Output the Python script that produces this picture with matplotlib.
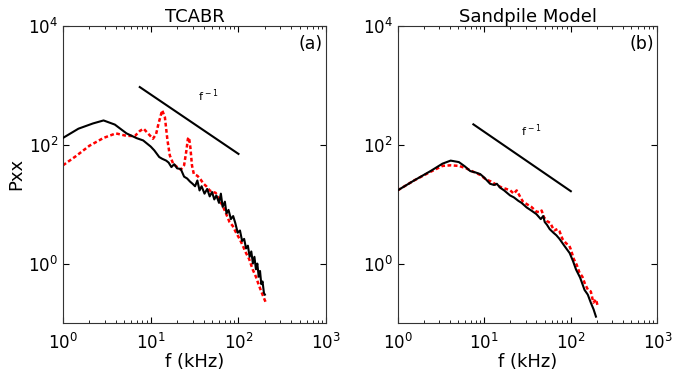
import numpy as np
import matplotlib
matplotlib.use('Agg')
import matplotlib.pyplot as plt
import matplotlib.ticker as mticker

# TCABR spectra (f in kHz)
tc_f_exp = [1, 1.5, 2.2, 2.9, 3.9, 5.3, 6.9, 8.2, 10, 11, 12.5, 13.5, 15, 16, 17.2, 18.5, 20, 22,
            24, 26, 28, 30, 32, 34, 36, 38, 41, 44, 47, 50, 53, 56, 60, 63, 66, 70, 73, 77, 82,
            87, 92, 98, 104, 110, 116, 122, 128, 134, 140, 146, 152, 158, 164, 170, 176, 182,
            188, 195, 200]
tc_p_exp = [130, 186, 228, 256, 218, 155, 129, 118, 93, 80, 62, 58, 54, 50, 42, 47, 40, 39,
            29, 27, 24, 22, 20, 25, 17, 20, 15, 18, 13.5, 16, 12, 14, 10.5, 15, 9, 11, 7, 8, 5.6,
            6.3, 4.8, 3.3, 3.6, 2.4, 2.6, 1.8, 2.0, 1.3, 1.6, 1.0, 1.3, 0.8, 1.0, 0.6, 0.75, 0.45,
            0.5, 0.32, 0.3]

tc_f_sim = [1, 1.4, 2, 2.9, 4, 5.3, 6.6, 7.5, 8.3, 9.3, 10.6, 11.5, 12.3, 13.5, 14.5, 15.5,
            16.5, 18, 20, 22, 24, 25.5, 26.5, 27.3, 28.3, 29.5, 31, 34, 37, 40, 43, 47, 51, 55,
            60, 66, 72, 79, 86, 94, 103, 112, 122, 132, 145, 158, 172, 188, 205]
tc_p_sim = [45, 64, 96, 130, 155, 141, 140, 170, 186, 155, 126, 150, 230, 380, 290, 120,
            66, 48, 42, 38, 45, 80, 125, 133, 90, 45, 32, 30, 26, 22, 20, 17, 16, 15.5,
            12, 9.4, 7, 5, 4.3, 3.3, 2.6, 2.0, 1.5, 1.2, 0.8, 0.6, 0.42, 0.3, 0.22]

# Sandpile model spectra
sp_f_a = [1, 1.55, 2.4, 3.3, 4.1, 5.1, 6.0, 6.9, 8, 9, 10, 11.7, 13, 14, 15.2, 17, 19.9, 22,
          24.7, 27, 30.9, 35, 40, 45, 48, 50, 53, 57, 63, 68, 74, 84, 97, 106, 115, 128, 144,
          157, 170, 183, 195]
sp_p_a = [17, 25, 36, 48, 54, 51, 43, 36, 34, 32, 28, 22, 21, 22, 19, 17, 14, 13,
          11.4, 10.5, 8.8, 7.8, 6.8, 5.6, 6.3, 5.0, 4.5, 3.8, 3.3, 3.0, 2.6, 2.0, 1.5, 1.1,
          0.79, 0.58, 0.36, 0.3, 0.22, 0.17, 0.128]

sp_f_b = [1, 1.55, 2.4, 3.3, 4.1, 5.1, 6.2, 7.5, 9, 10.5, 12, 14, 16, 18, 20, 22, 23.7, 25.5,
          28, 31, 35, 40, 44, 46, 49, 53, 58, 64, 70, 74, 80, 88, 96, 100, 108, 117, 126, 136,
          146, 158, 170, 182, 195, 203]
sp_p_b = [17, 25, 35, 44, 45, 44, 40, 35, 31, 26, 24, 21, 19, 18, 17, 15, 17, 14,
          11, 10, 9, 7.5, 7.3, 7.8, 6, 5.2, 4.8, 3.6, 3.8, 3.5, 2.6, 2.2, 2.0, 1.73, 1.2,
          0.95, 0.7, 0.6, 0.45, 0.36, 0.34, 0.22, 0.25, 0.2]

# reference f^-1 lines
ref_f = [7.5, 100]
ref_c = [7000, 1650]

titles = ['TCABR', 'Sandpile Model']
tags = ['(a)', '(b)']
label_pos = [(45, 680), (35, 170)]

fig = plt.figure(figsize=(6.75, 3.8), dpi=100)
ax1 = fig.add_axes([0.0933, 0.15, 0.39, 0.782])
ax2 = fig.add_axes([0.589, 0.15, 0.385, 0.782])
axes = [ax1, ax2]

data = [(tc_f_exp, tc_p_exp, tc_f_sim, tc_p_sim), (sp_f_a, sp_p_a, sp_f_b, sp_p_b)]

for i, ax in enumerate(axes):
    fa, pa, fb, pb = data[i]
    ax.loglog(fa, pa, color='black', lw=1.5, zorder=3)
    ax.loglog(fb, pb, color='red', lw=1.8, ls=(0, (1.5, 1.0)), zorder=2)
    rf = np.array(ref_f)
    ax.loglog(rf, ref_c[i] / rf, color='black', lw=1.5)
    ax.text(label_pos[i][0], label_pos[i][1], r'f$^{\,-1}$', fontsize=8, ha='center', va='center')
    ax.text(0.94, 0.94, tags[i], transform=ax.transAxes, fontsize=12.5, ha='center', va='center')
    ax.set_xlim(1, 1000)
    ax.set_ylim(0.1, 1e4)
    ax.set_title(titles[i], fontsize=13, pad=3)
    ax.set_xlabel('f (kHz)', fontsize=13, labelpad=0)
    ax.yaxis.set_major_locator(mticker.LogLocator(base=100, numticks=5))
    ax.yaxis.set_minor_locator(mticker.NullLocator())
    ax.xaxis.set_major_locator(mticker.LogLocator(base=10, numticks=5))
    ax.xaxis.set_minor_locator(mticker.LogLocator(base=10, subs=np.arange(2, 10), numticks=10))
    ax.xaxis.set_minor_formatter(mticker.NullFormatter())
    ax.tick_params(which='both', direction='in', top=True, right=True, labelsize=12)
    ax.tick_params(axis='x', which='major', pad=7)
    ax.tick_params(which='major', length=4)
    ax.tick_params(which='minor', length=2)
    for s in ax.spines.values():
        s.set_color('#333333')

ax1.set_ylabel('Pxx', fontsize=13, labelpad=2)

fig.savefig('out.png', dpi=100)
